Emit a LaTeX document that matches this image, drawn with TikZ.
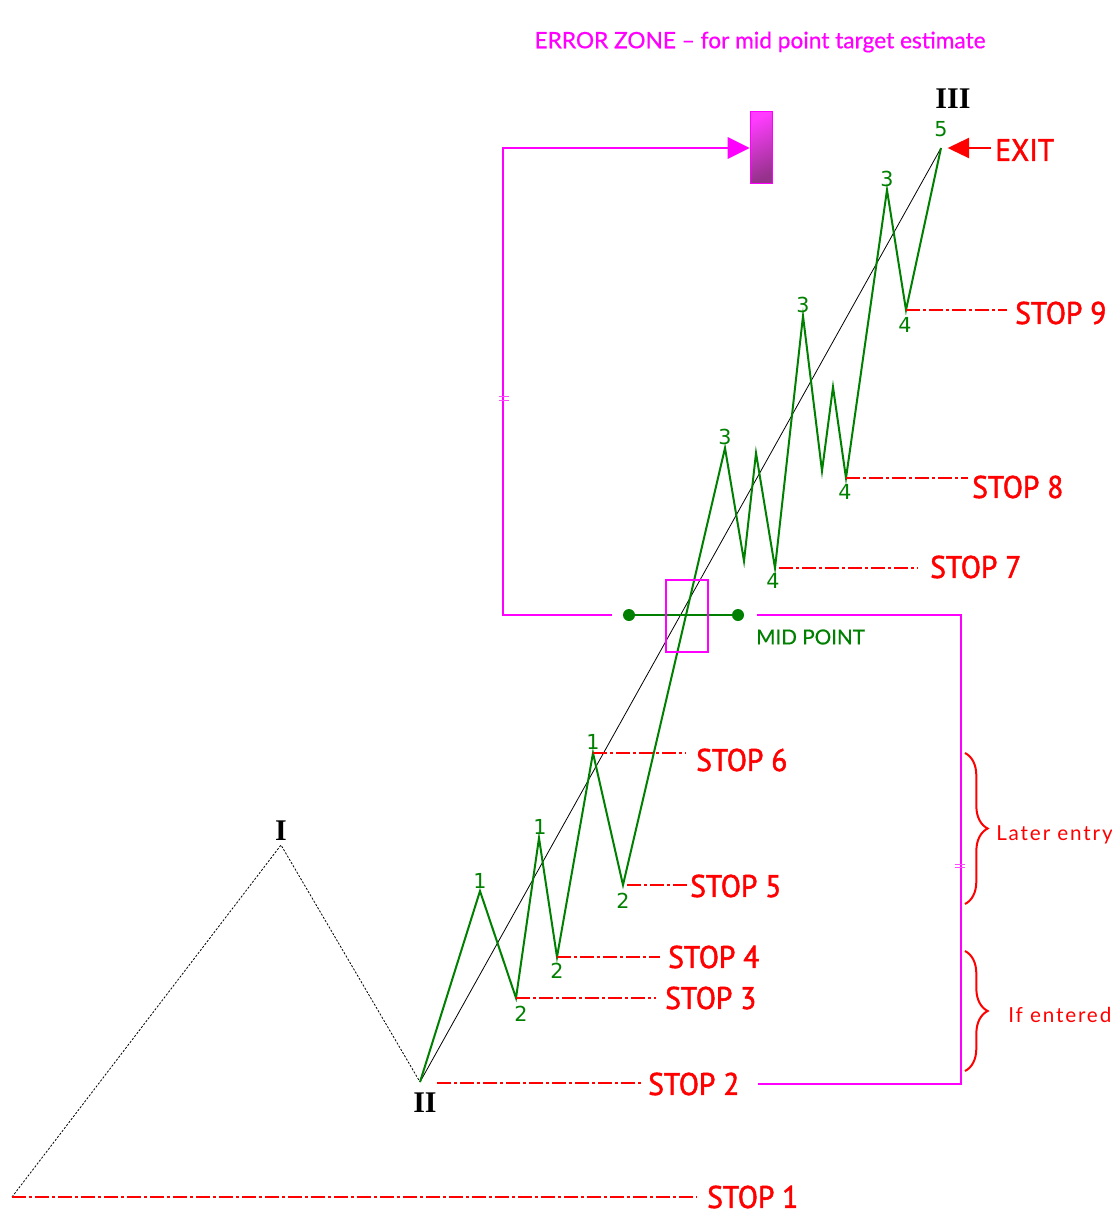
\documentclass[tikz,border=0pt]{standalone}
\usepackage{fontspec}
\usetikzlibrary{arrows.meta,decorations.pathreplacing}
\newfontfamily\stopfont[FakeStretch=0.94,FakeBold=1.6]{PT Sans}
\newfontfamily\tagfont[FakeBold=0.6]{Lato}
\newfontfamily\sparsefont[LetterSpace=9]{Lato}
\newfontfamily\countfont{DejaVu Sans}
\newfontfamily\wavefont{Liberation Serif}
\definecolor{wgreen}{RGB}{0,128,0}
\definecolor{mag}{RGB}{255,0,255}
\definecolor{sred}{RGB}{255,0,0}
\begin{document}
\begin{tikzpicture}[x=0.75pt,y=-0.75pt,
  stopline/.style={sred, line width=1.5pt, dash pattern=on 10.5pt off 2.25pt on 2.25pt off 2.25pt},
  stoplabel/.style={text=sred, font=\stopfont\fontsize{23.5}{28}\selectfont, anchor=west, inner sep=0pt},
  wave/.style={wgreen, line width=1.5pt, line join=miter},
  cnt/.style={text=wgreen, font=\countfont\fontsize{15.5}{18}\selectfont, inner sep=0pt},
  roman/.style={font=\wavefont\bfseries\fontsize{22.5}{24}\selectfont, inner sep=0pt},
  link/.style={mag, line width=1.5pt},
  tick/.style={mag!70, line width=0.6pt},
  guide/.style={black, line width=0.6pt, dash pattern=on 1.6pt off 1.2pt},
  note/.style={text=sred, font=\sparsefont\fontsize{15.5}{18}\selectfont, anchor=west, inner sep=0pt},
  rbrace/.style={sred, line width=1.5pt, decorate, decoration={brace, amplitude=17pt}},
  dot/.style={circle, fill=wgreen, inner sep=0pt, minimum size=9pt}
]
\useasboundingbox (0,0) rectangle (1112,1215);

% wave points
\coordinate (p0) at (12,1197);
\coordinate (pI) at (281,845);
\coordinate (pII) at (420,1082);
\coordinate (a1) at (480,891);
\coordinate (a2) at (516,998);
\coordinate (b1) at (539,838);
\coordinate (b2) at (557,957);
\coordinate (c1) at (593,753);
\coordinate (c2) at (623,885);
\coordinate (d3) at (725,448);
\coordinate (da) at (744,561);
\coordinate (db) at (756,453);
\coordinate (d4) at (775,568);
\coordinate (e3) at (803,316);
\coordinate (ea) at (822,471);
\coordinate (eb) at (833,387);
\coordinate (e4) at (846,478);
\coordinate (f3) at (887,190);
\coordinate (f4) at (906,310);
\coordinate (p5) at (941,148);

% larger degree waves
\draw[guide] (p0) -- (pI) -- (pII);
\draw[black, line width=0.6pt] (pII) -- (p5);
\draw[wave] (pII) -- (a1) -- (a2) -- (b1) -- (b2) -- (c1) -- (c2) -- (d3) -- (da) -- (db) -- (d4)
  -- (e3) -- (ea) -- (eb) -- (e4) -- (f3) -- (f4) -- (p5);

\node[roman] (nI) at (281,831) {I};
\node[roman] (nII) at (425,1103) {II};
\node[roman] (nIII) at (953,99) {III};

% sub-wave counts
\node[cnt] (ca1) at (480,881) {1};
\node[cnt] (ca2) at (521,1014) {2};
\node[cnt] (cb1) at (540,827) {1};
\node[cnt] (cb2) at (557,971) {2};
\node[cnt] (cc1) at (593,742) {1};
\node[cnt] (cc2) at (623,901) {2};
\node[cnt] (cd3) at (725,437) {3};
\node[cnt] (cd4) at (773,581) {4};
\node[cnt] (ce3) at (803,305) {3};
\node[cnt] (ce4) at (845,492) {4};
\node[cnt] (cf3) at (887,179) {3};
\node[cnt] (cf4) at (905,325) {4};
\node[cnt] (c5) at (941,129) {5};

% protective stops
\coordinate (s2a) at (437,1083);
\node[stoplabel] (s1) at (707,1197) {STOP 1};
\node[stoplabel] (s2) at (648,1084) {STOP 2};
\node[stoplabel] (s3) at (665,998) {STOP 3};
\node[stoplabel] (s4) at (668,957) {STOP 4};
\node[stoplabel] (s5) at (690,886) {STOP 5};
\node[stoplabel] (s6) at (696,760) {STOP 6};
\node[stoplabel] (s7) at (930,567) {STOP 7};
\node[stoplabel] (s8) at (972,487) {STOP 8};
\node[stoplabel] (s9) at (1015,313) {STOP 9};
\draw[stopline] (p0) -- ([xshift=-8pt]p0 -| s1.west);
\draw[stopline] (s2a) -- ([xshift=-4pt]s2a -| s2.west);
\draw[stopline] (a2) -- ([xshift=-7pt]a2 -| s3.west);
\draw[stopline] (b2) -- ([xshift=-6pt]b2 -| s4.west);
\draw[stopline] ([xshift=3pt]c2) -- (c2 -| s5.west);
\draw[stopline] (c1) -- ([xshift=-8pt]c1 -| s6.west);
\draw[stopline] ([xshift=3pt]d4) -- ([xshift=-9pt]d4 -| s7.west);
\draw[stopline] (e4) -- ([xshift=-3pt]e4 -| s8.west);
\draw[stopline] (f4) -- ([xshift=-6pt]f4 -| s9.west);

% exit
\node[stoplabel] (exit) at (995,150) {EXIT};
\draw[sred, line width=1.5pt, -{Triangle[length=16pt,width=15pt]}, shorten >=5pt]
  ([xshift=-3pt]p5 -| exit.west) -- (p5);

% mid point
\node[dot] (mA) at (629,615) {};
\node[dot] (mB) at (738,615) {};
\draw[wgreen, line width=1.5pt] (mA) -- (mB);
\node[draw=mag, line width=1.5pt, minimum width=31.5pt, minimum height=54pt, inner sep=0pt] (mbox) at (687,616) {};
\node[text=wgreen, font=\tagfont\fontsize{15.5}{18}\selectfont, anchor=west, inner sep=0pt] (mlabel) at (756,637) {MID POINT};

% error zone
\node[draw=mag, line width=0.75pt, minimum width=17pt, minimum height=54pt, inner sep=0pt,
  top color={rgb,255:red,255;green,60;blue,255}, bottom color={rgb,255:red,150;green,50;blue,140},
  shading angle=25] (ez) at (761.5,147) {};
\node[text=mag, font=\tagfont\fontsize{17}{20}\selectfont, inner sep=0pt] (eztitle) at (760,42)
  {ERROR ZONE – for mid point target estimate};
\coordinate (lA) at (612,615);
\coordinate (lB) at (503,615);
\coordinate (lC) at (503,148);
\draw[link, -{Triangle[length=16.5pt,width=16pt]}] (lA) -- (lB) -- (lC) -- (ez.west |- lC);
\draw[tick] (499,396) -- (509,396) (499,400) -- (509,400);

\coordinate (rA) at (757,615);
\coordinate (rB) at (961,615);
\coordinate (rC) at (961,1084);
\coordinate (rD) at (758,1084);
\draw[link] (rA) -- (rB) -- (rC) -- (rD);
\draw[tick] (955,864) -- (965,864) (955,867) -- (965,867);

% entry ranges
\coordinate (bt1) at (965,753);
\coordinate (bb1) at (965,904);
\coordinate (bt2) at (965,951);
\coordinate (bb2) at (965,1071);
\draw[rbrace] (bt1) -- (bb1);
\draw[rbrace] (bt2) -- (bb2);
\node[note] (later) at (996,835) {Later entry};
\node[note] (ifent) at (1008,1015) {If entered};
\end{tikzpicture}
\end{document}
